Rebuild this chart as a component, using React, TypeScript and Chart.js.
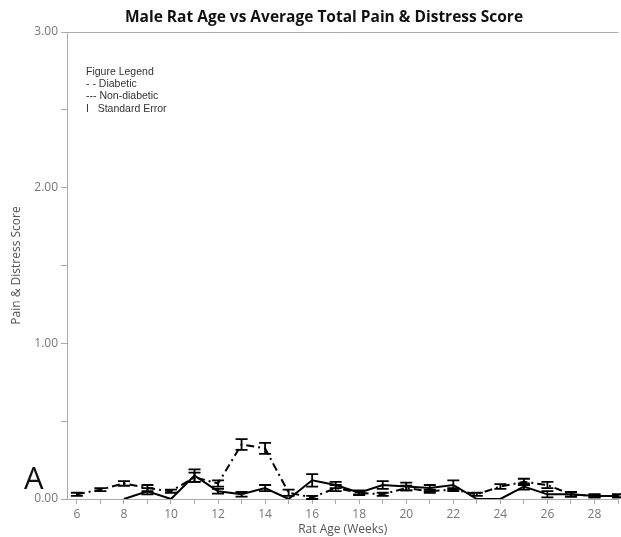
import React, { useEffect, useRef } from "react";
import { Chart, registerables } from "chart.js";

Chart.register(...registerables);

const title = "Male Rat Age vs Average Total Pain & Distress Score";
const xTitle = "Rat Age (Weeks)";
const yTitle = "Pain & Distress Score";
const panelLabel = "A";
const legendLines = ["Figure Legend", "- - Diabetic", "--- Non-diabetic", "I   Standard Error"];

const weeks = [6, 7, 8, 9, 10, 11, 12, 13, 14, 15, 16, 17, 18, 19, 20, 21, 22, 23, 24, 25, 26, 27, 28, 29];
const diabetic = [0.03, 0.06, 0.10, 0.07, 0.05, 0.14, 0.10, 0.35, 0.325, 0.04, 0.01, 0.07, 0.04, 0.03, 0.07, 0.05, 0.06, 0.03, 0.08, 0.11, 0.09, 0.03, 0.02, 0.02];
const diabeticSE = [0.01, 0.01, 0.015, 0.02, 0.01, 0.03, 0.02, 0.035, 0.035, 0.02, 0.01, 0.02, 0.01, 0.01, 0.015, 0.01, 0.01, 0.01, 0.015, 0.02, 0.02, 0.015, 0.01, 0.01];
const nonDiabetic = [null, null, 0, 0.05, 0.0, 0.15, 0.05, 0.03, 0.07, 0.0, 0.12, 0.09, 0.04, 0.09, 0.08, 0.07, 0.09, 0.0, 0.0, 0.08, 0.03, 0.03, 0.02, 0.02];
const nonDiabeticSE = [null, null, 0, 0.02, 0, 0.04, 0.015, 0.015, 0.02, 0, 0.04, 0.02, 0.015, 0.025, 0.025, 0.02, 0.03, 0, 0, 0.02, 0.02, 0.015, 0.01, 0.01];

const xMin = 5.58;
const xMax = 29.02;
const yMin = 0;
const yMax = 3;

const errorBarPlugin = {
  id: "errorBars",
  afterDatasetsDraw(chart: any) {
    const { ctx, scales } = chart;
    const xs = scales.x;
    const ys = scales.y;
    ctx.save();
    ctx.strokeStyle = "#000";
    ctx.lineWidth = 1.8;
    chart.data.datasets.forEach((ds: any) => {
      const se = ds.se as (number | null)[];
      ds.data.forEach((p: any, i: number) => {
        if (p == null || p.y == null || se[i] == null || se[i] === 0) return;
        const x = xs.getPixelForValue(p.x);
        const top = ys.getPixelForValue(p.y + (se[i] as number));
        const bot = ys.getPixelForValue(Math.max(0, p.y - (se[i] as number)));
        const cap = 6;
        ctx.beginPath();
        ctx.moveTo(x, top);
        ctx.lineTo(x, bot);
        ctx.moveTo(x - cap, top);
        ctx.lineTo(x + cap, top);
        ctx.moveTo(x - cap, bot);
        ctx.lineTo(x + cap, bot);
        ctx.stroke();
      });
    });
    ctx.restore();
  },
};

const textPlugin = {
  id: "texts",
  afterDraw(chart: any) {
    const { ctx, chartArea } = chart;
    ctx.save();
    // Title
    ctx.fillStyle = "#111";
    ctx.font = "bold 15.5px 'Open Sans'";
    ctx.textAlign = "center";
    ctx.textBaseline = "middle";
    ctx.fillText(title, 324, 18);
    // x title
    ctx.fillStyle = "#555";
    ctx.font = "12px 'Open Sans'";
    ctx.fillText(xTitle, (chartArea.left + chartArea.right) / 2, 530);
    // y title
    ctx.save();
    ctx.translate(17, (chartArea.top + chartArea.bottom) / 2);
    ctx.rotate(-Math.PI / 2);
    ctx.fillText(yTitle, 0, 0);
    ctx.restore();
    // Panel label
    ctx.fillStyle = "#111";
    ctx.font = "31px 'Open Sans'";
    ctx.textAlign = "left";
    ctx.textBaseline = "alphabetic";
    ctx.fillText(panelLabel, 24, 489);
    // Legend
    ctx.fillStyle = "#333";
    ctx.font = "10.5px 'Liberation Sans'";
    ctx.textBaseline = "middle";
    legendLines.forEach((l, i) => {
      ctx.fillText(l, 86, 72 + i * 12.3);
    });
    ctx.restore();
  },
};

export default function App() {
  const ref = useRef<HTMLCanvasElement | null>(null);
  useEffect(() => {
    document.body.style.margin = "0";
    const canvas = ref.current!;
    const chart = new Chart(canvas, {
      type: "line",
      data: {
        datasets: [
          {
            label: "Diabetic",
            data: weeks.map((w, i) => ({ x: w, y: diabetic[i] })),
            se: diabeticSE,
            borderColor: "#000",
            borderWidth: 2,
            borderDash: [8, 4, 2, 4],
            pointRadius: 0,
            tension: 0,
            spanGaps: false,
          } as any,
          {
            label: "Non-diabetic",
            data: weeks.map((w, i) => ({ x: w, y: nonDiabetic[i] })),
            se: nonDiabeticSE,
            borderColor: "#000",
            borderWidth: 2,
            pointRadius: 0,
            tension: 0,
            spanGaps: false,
          } as any,
        ],
      },
      options: {
        responsive: false,
        animation: false,
        layout: { padding: { top: 32, right: 0, left: 0, bottom: 0 } },
        plugins: {
          legend: { display: false },
          title: { display: false },
          tooltip: { enabled: false },
        },
        scales: {
          x: {
            type: "linear",
            min: xMin,
            max: xMax,
            afterBuildTicks: (scale: any) => {
              scale.ticks = weeks.map((w) => ({ value: w }));
            },
            afterFit: (scale: any) => {
              scale.height = 38;
            },
            ticks: {
              autoSkip: false,
              maxRotation: 0,
              padding: 3,
              color: "#777",
              font: { family: "'Open Sans'", size: 12 },
              callback: (v: any) => (Number(v) % 2 === 0 ? String(v) : ""),
            },
            grid: {
              drawOnChartArea: false,
              tickLength: 5,
              tickColor: "#aaa",
            },
            border: { color: "#aaa", width: 1 },
          },
          y: {
            type: "linear",
            min: yMin,
            max: yMax,
            afterBuildTicks: (scale: any) => {
              const t = [];
              for (let v = yMin; v <= yMax + 1e-9; v += 0.5) t.push({ value: v });
              scale.ticks = t;
            },
            afterFit: (scale: any) => {
              scale.width = 67;
            },
            ticks: {
              padding: 3,
              color: "#777",
              font: { family: "'Open Sans'", size: 12 },
              callback: (v: any) => (Number(v) % 1 === 0 ? Number(v).toFixed(2) : ""),
            },
            grid: {
              color: (c: any) => (c.tick && c.tick.value === 3 ? "#aaa" : "rgba(0,0,0,0)"),
              tickLength: 6,
              tickColor: "#aaa",
            },
            border: { color: "#aaa", width: 1 },
          },
        },
      } as any,
      plugins: [errorBarPlugin, textPlugin],
    });
    return () => chart.destroy();
  }, []);
  return <canvas ref={ref} width={621} height={537} style={{ display: "block" }} />;
}
